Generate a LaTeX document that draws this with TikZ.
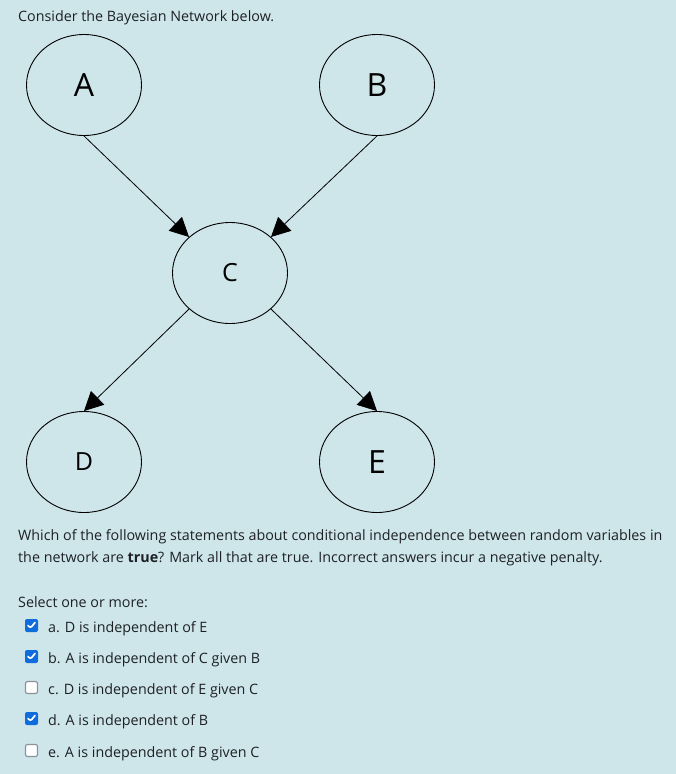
\documentclass[tikz,border=0pt]{standalone}
\usepackage{fontspec}
\setmainfont{Open Sans}
\usetikzlibrary{shapes.geometric, arrows.meta, positioning}
\definecolor{bgcol}{RGB}{206,230,234}
\definecolor{txtcol}{RGB}{29,33,37}
\definecolor{boxcol}{RGB}{15,108,220}
\definecolor{boxgray}{RGB}{140,146,153}

\begin{document}
\begin{tikzpicture}[x=1pt, y=-1pt,
  varnode/.style={ellipse, draw, line width=0.9pt, minimum width=115pt,
                  minimum height=101pt, inner sep=0pt, text=black},
  bigtxt/.style={font=\fontsize{32}{32}\selectfont},
  smalltxt/.style={font=\fontsize{25}{25}\selectfont},
  dep/.style={-{Triangle[length=19pt, width=19pt]}, line width=0.8pt},
  qtext/.style={anchor=base west, text=txtcol, inner sep=0pt,
                font=\fontsize{14.3}{17}\selectfont},
  boxon/.style={rectangle, rounded corners=2pt, fill=boxcol,
                minimum size=13pt, inner sep=0pt,
                path picture={\draw[white, line width=1.7pt, line cap=round,
                  line join=round]
                  ([shift={(-3.5pt,0pt)}]path picture bounding box.center) --
                  ([shift={(-1pt,-2.5pt)}]path picture bounding box.center) --
                  ([shift={(3.5pt,3pt)}]path picture bounding box.center);}},
  boxoff/.style={rectangle, rounded corners=2pt, draw=boxgray, fill=white,
                 line width=1.2pt, minimum size=12pt, inner sep=0pt},
]

  % Page
  \fill[bgcol] (0,0) rectangle (676,774);
  \useasboundingbox (0,0) rectangle (676,774);

  \node[qtext] (intro) at (18,21) {Consider the Bayesian Network below.};

  % Variables
  \node[varnode, bigtxt]   (A) at (84,85)   {A};
  \node[varnode, bigtxt]   (B) at (377,85)  {B};
  \node[varnode, smalltxt] (C) at (230,273) {C};
  \node[varnode, smalltxt] (D) at (84,462)  {D};
  \node[varnode, bigtxt]   (E) at (377,462) {E};

  % Dependencies
  \draw[dep] (A.south) -- (C.north west);
  \draw[dep] (B.south) -- (C.north east);
  \draw[dep] (C.south west) -- (D.north);
  \draw[dep] (C.south east) -- (E.north);

  % Question
  \node[qtext] (q1) at (18,540)
    {Which of the following statements about conditional independence between random variables in};
  \node[qtext] (q2) at (18,562)
    {the network are \textbf{true}? Mark all that are true. Incorrect answers incur a negative penalty.};
  \node[qtext] (sel) at (18,607) {Select one or more:};

  % Answers
  \foreach \lbl/\txt/\st/\yb in
    {a/{a. D is independent of E}/boxon/632,
     b/{b. A is independent of C given B}/boxon/663,
     c/{c. D is independent of E given C}/boxoff/694,
     d/{d. A is independent of B}/boxon/725,
     e/{e. A is independent of B given C}/boxoff/757} {
    \node[\st] (box\lbl) at (31.5,\yb-6.5) {};
    \node[qtext] (item\lbl) at (48,\yb) {\txt};
  }

\end{tikzpicture}
\end{document}
